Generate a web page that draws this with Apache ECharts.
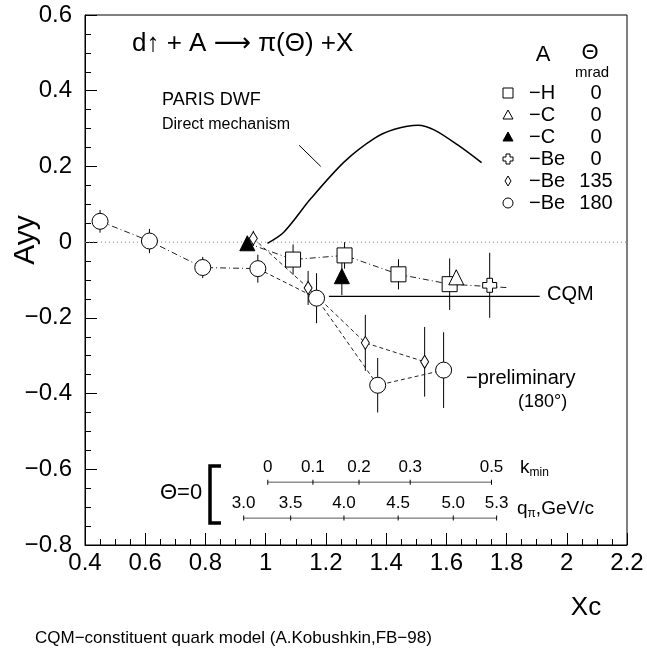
<!DOCTYPE html>
<html>
<head>
<meta charset="utf-8">
<script src="https://cdn.jsdelivr.net/npm/echarts@6/dist/echarts.min.js"></script>
<style>
  html, body { margin: 0; padding: 0; background: #fff; }
  #chart { width: 647px; height: 650px; }
</style>
</head>
<body>
<div id="chart"></div>
<script>
const be180X = [0.45, 0.614, 0.791, 0.974, 1.169, 1.372, 1.591];
const be180Y = [0.055, 0.003, -0.067, -0.07, -0.148, -0.378, -0.338];
const be180Err = [0.03, 0.032, 0.028, 0.037, 0.066, 0.072, 0.1];

const be135X = [0.959, 1.141, 1.331, 1.528];
const be135Y = [0.01, -0.121, -0.266, -0.316];
const be135Err = [0.02, 0.045, 0.074, 0.092];

const hX = [1.091, 1.262, 1.441, 1.611];
const hY = [-0.046, -0.035, -0.085, -0.111];
const hErr = [0.04, 0.035, 0.04, 0.068];

const cFullX = [0.939, 1.253];
const cFullY = [-0.003, -0.09];
const cFullErr = [0.015, 0.05];

const cOpenX = [1.633];
const cOpenY = [-0.093];
const cOpenErr = [0.02];

const be0X = [1.744];
const be0Y = [-0.114];
const be0Err = [0.086];

// dash-dot guide through the H points
const hGuideX = [0.94, 1.091, 1.262, 1.441, 1.611, 1.8];
const hGuideY = [-0.003, -0.046, -0.035, -0.085, -0.111, -0.12];

// PARIS DWF direct mechanism curve
const parisX = [1.006, 1.061, 1.15, 1.261, 1.361, 1.428, 1.506, 1.561, 1.639, 1.717];
const parisY = [-0.003, 0.027, 0.115, 0.212, 0.274, 0.298, 0.309, 0.296, 0.256, 0.21];
const pointerX = [1.111, 1.183];
const pointerY = [0.256, 0.2];

// CQM prediction
const cqmX = [1.21, 1.91];
const cqmY = -0.143;

// auxiliary scales for Theta = 0
const kminX = [1.007, 1.157, 1.31, 1.48, 1.75];
const kminLabels = ['0', '0.1', '0.2', '0.3', '0.5'];
const kminLevel = -0.634;
const qX = [0.927, 1.083, 1.26, 1.44, 1.623, 1.767];
const qLabels = ['3.0', '3.5', '4.0', '4.5', '5.0', '5.3'];
const qLevel = -0.729;

// legend rows
const legendNames = ['\u2212H', '\u2212C', '\u2212C', '\u2212Be', '\u2212Be', '\u2212Be'];
const legendAngles = ['0', '0', '0', '0', '135', '180'];

const FONT = '"Liberation Sans", "DejaVu Sans", sans-serif';
const crossPath = 'path://M3,0 H7 V3 H10 V7 H7 V10 H3 V7 H0 V3 H3 Z';

let chart = echarts.init(document.getElementById('chart'), null, {renderer: 'canvas'});

function pts(xs, ys) {
  return xs.map((x, i) => [x, Array.isArray(ys) ? ys[i] : ys]);
}

function errSeries(xs, ys, es) {
  return {
    type: 'custom',
    z: 2,
    silent: true,
    data: xs.map((x, i) => [x, ys[i] - es[i], ys[i] + es[i]]),
    renderItem: (params, api) => {
      let lo = api.coord([api.value(0), api.value(1)]);
      let hi = api.coord([api.value(0), api.value(2)]);
      return {
        type: 'line',
        shape: {x1: lo[0], y1: lo[1], x2: hi[0], y2: hi[1]},
        style: {stroke: '#000', lineWidth: 1}
      };
    }
  };
}

function markSeries(xs, ys, symbol, size, fill) {
  return {
    type: 'scatter',
    z: 6,
    silent: true,
    symbol: symbol,
    symbolSize: size,
    data: pts(xs, ys),
    itemStyle: {color: fill, borderColor: '#000', borderWidth: 1, opacity: 1}
  };
}

function lineSeries(data, type, width, color) {
  return {
    type: 'line',
    z: 3,
    silent: true,
    symbol: 'none',
    data: data,
    lineStyle: {color: color || '#222', width: width || 1, type: type}
  };
}

function scaleSeries(xs, level, labels) {
  return {
    type: 'line',
    z: 3,
    silent: true,
    data: pts(xs, level),
    symbol: 'rect',
    symbolSize: [1, 5],
    itemStyle: {color: '#000'},
    lineStyle: {color: '#555', width: 1},
    label: {
      show: true,
      position: 'top',
      distance: 4,
      formatter: (p) => labels[p.dataIndex],
      fontSize: 17,
      fontFamily: FONT,
      color: '#000'
    }
  };
}

function txt(text, x, y, size, extra) {
  return Object.assign({
    type: 'text',
    x: x,
    y: y,
    silent: true,
    style: {text: text, fill: '#000', font: size + 'px ' + FONT, align: 'left', verticalAlign: 'middle'}
  }, extra || {});
}

let legendY = [93, 115, 137, 159, 181, 203];
let lx = 508;
let legendGraphics = [
  txt('A', 543, 55, 22, {style: {text: 'A', fill: '#000', font: '22px ' + FONT, align: 'center', verticalAlign: 'middle'}}),
  txt('\u0398', 590, 53, 22, {style: {text: '\u0398', fill: '#000', font: '22px ' + FONT, align: 'center', verticalAlign: 'middle'}}),
  txt('mrad', 592, 73, 15, {style: {text: 'mrad', fill: '#000', font: '15px ' + FONT, align: 'center', verticalAlign: 'middle'}}),
  {type: 'rect', shape: {x: lx - 5, y: legendY[0] - 5, width: 10, height: 10}, style: {fill: '#fff', stroke: '#000', lineWidth: 1}},
  {type: 'polygon', shape: {points: [[lx, legendY[1] - 5], [lx + 5, legendY[1] + 4], [lx - 5, legendY[1] + 4]]}, style: {fill: '#fff', stroke: '#000', lineWidth: 1}},
  {type: 'polygon', shape: {points: [[lx, legendY[2] - 5], [lx + 5, legendY[2] + 4], [lx - 5, legendY[2] + 4]]}, style: {fill: '#000', stroke: '#000', lineWidth: 1}},
  {type: 'polygon', shape: {points: [[lx - 2, legendY[3] - 5], [lx + 2, legendY[3] - 5], [lx + 2, legendY[3] - 2], [lx + 5, legendY[3] - 2], [lx + 5, legendY[3] + 2], [lx + 2, legendY[3] + 2], [lx + 2, legendY[3] + 5], [lx - 2, legendY[3] + 5], [lx - 2, legendY[3] + 2], [lx - 5, legendY[3] + 2], [lx - 5, legendY[3] - 2], [lx - 2, legendY[3] - 2]]}, style: {fill: '#fff', stroke: '#000', lineWidth: 1}},
  {type: 'polygon', shape: {points: [[lx, legendY[4] - 5], [lx + 3, legendY[4]], [lx, legendY[4] + 5], [lx - 3, legendY[4]]]}, style: {fill: '#fff', stroke: '#000', lineWidth: 1}},
  {type: 'circle', shape: {cx: lx, cy: legendY[5], r: 5}, style: {fill: '#fff', stroke: '#000', lineWidth: 1}}
];
legendNames.forEach((name, i) => {
  legendGraphics.push(txt(name, 529, legendY[i], 20));
  legendGraphics.push({
    type: 'text', x: 596, y: legendY[i], silent: true,
    style: {text: legendAngles[i], fill: '#000', font: '20px ' + FONT, align: 'center', verticalAlign: 'middle'}
  });
});

let option = {
  animation: false,
  backgroundColor: '#fff',
  grid: {
    left: 85, top: 15, width: 542, height: 530,
    show: true, borderColor: '#000', borderWidth: 1, backgroundColor: 'transparent',
    containLabel: false, outerBoundsMode: 'none'
  },
  xAxis: {
    type: 'value', min: 0.4, max: 2.2, interval: 0.2,
    axisLine: {onZero: false, lineStyle: {color: '#000', width: 1}},
    axisTick: {inside: true, length: 12, lineStyle: {color: '#000'}},
    minorTick: {show: true, splitNumber: 4, length: 6, lineStyle: {color: '#000'}},
    splitLine: {show: false},
    axisLabel: {
      fontSize: 24, fontFamily: FONT, color: '#000', margin: 6,
      showMinLabel: true, showMaxLabel: true, hideOverlap: false,
      formatter: (v) => String(Math.round(v * 10) / 10)
    }
  },
  yAxis: {
    type: 'value', min: -0.8, max: 0.6, interval: 0.2,
    axisLine: {onZero: false, lineStyle: {color: '#000', width: 1}},
    axisTick: {inside: true, length: 12, lineStyle: {color: '#000'}},
    minorTick: {show: true, splitNumber: 4, length: 6, lineStyle: {color: '#000'}},
    splitLine: {show: false},
    axisLabel: {
      fontSize: 24, fontFamily: FONT, color: '#000', margin: 13,
      showMinLabel: true, showMaxLabel: true, hideOverlap: false,
      formatter: (v) => {
        let r = Math.round(v * 10) / 10;
        return r === 0 ? '0' : r.toFixed(1).replace('-', '\u2212');
      }
    }
  },
  series: [
    // zero reference
    lineSeries([[0.4, 0], [2.2, 0]], [1, 3], 1, '#888'),
    // guides
    lineSeries(pts(be180X.slice(0, 4), be180Y.slice(0, 4)), [6, 3, 1, 3]),
    lineSeries(pts(be180X.slice(3), be180Y.slice(3)), [4, 3]),
    lineSeries(pts(be135X, be135Y), [4, 3]),
    lineSeries(pts(hGuideX, hGuideY), [6, 3, 1, 3]),
    // theory
    Object.assign(lineSeries(pts(parisX, parisY), 'solid', 1.5, '#000'), {smooth: 0.3}),
    lineSeries(pts(pointerX, pointerY), 'solid', 1, '#000'),
    lineSeries(pts(cqmX, cqmY), 'solid', 1.2, '#000'),
    // auxiliary scales
    scaleSeries(kminX, kminLevel, kminLabels),
    scaleSeries(qX, qLevel, qLabels),
    // error bars
    errSeries(be180X, be180Y, be180Err),
    errSeries(be135X, be135Y, be135Err),
    errSeries(hX, hY, hErr),
    errSeries(cFullX, cFullY, cFullErr),
    errSeries(cOpenX, cOpenY, cOpenErr),
    errSeries(be0X, be0Y, be0Err),
    // markers
    markSeries(be180X, be180Y, 'circle', 16, '#fff'),
    markSeries(be135X, be135Y, 'diamond', [8, 13], '#fff'),
    markSeries(hX, hY, 'rect', 15, '#fff'),
    markSeries(cFullX, cFullY, 'triangle', 15, '#000'),
    markSeries(cOpenX, cOpenY, 'triangle', 15, '#fff'),
    markSeries(be0X, be0Y, crossPath, 14, '#fff')
  ],
  graphic: [
    txt('d\u2191 + A \u27F6 \u03C0(\u0398) +X', 132, 44, 26),
    txt('PARIS DWF', 162, 100, 18),
    txt('Direct mechanism', 162, 125, 16),
    txt('CQM', 547, 294, 20),
    txt('\u2212preliminary', 466, 378, 20),
    txt('(180\u00B0)', 518, 402, 18),
    txt('\u0398=0', 160, 493, 22),
    {
      type: 'polyline', silent: true,
      shape: {points: [[221, 466], [210, 466], [210, 523], [221, 523]]},
      style: {stroke: '#000', lineWidth: 3.5, fill: null}
    },
    {
      type: 'text', x: 520, y: 468, silent: true,
      style: {
        text: 'k{s|min}', fill: '#000', font: '19px ' + FONT, verticalAlign: 'middle',
        rich: {s: {fontSize: 12, fontFamily: FONT, padding: [10, 0, 0, 0]}}
      }
    },
    {
      type: 'text', x: 517, y: 509, silent: true,
      style: {
        text: 'q{s|\u03C0},GeV/c', fill: '#000', font: '19px ' + FONT, verticalAlign: 'middle',
        rich: {s: {fontSize: 12, fontFamily: FONT, padding: [10, 0, 0, 0]}}
      }
    },
    {
      type: 'text', x: 26, y: 240, rotation: Math.PI / 2, silent: true,
      style: {text: 'Ayy', fill: '#000', font: '30px ' + FONT, align: 'center', verticalAlign: 'middle'}
    },
    {
      type: 'text', x: 586, y: 608, silent: true,
      style: {text: 'Xc', fill: '#000', font: '26px ' + FONT, align: 'center', verticalAlign: 'middle'}
    },
    txt('CQM\u2212constituent quark model (A.Kobushkin,FB\u221298)', 35, 638, 17)
  ].concat(legendGraphics)
};

chart.setOption(option);
</script>
</body>
</html>
